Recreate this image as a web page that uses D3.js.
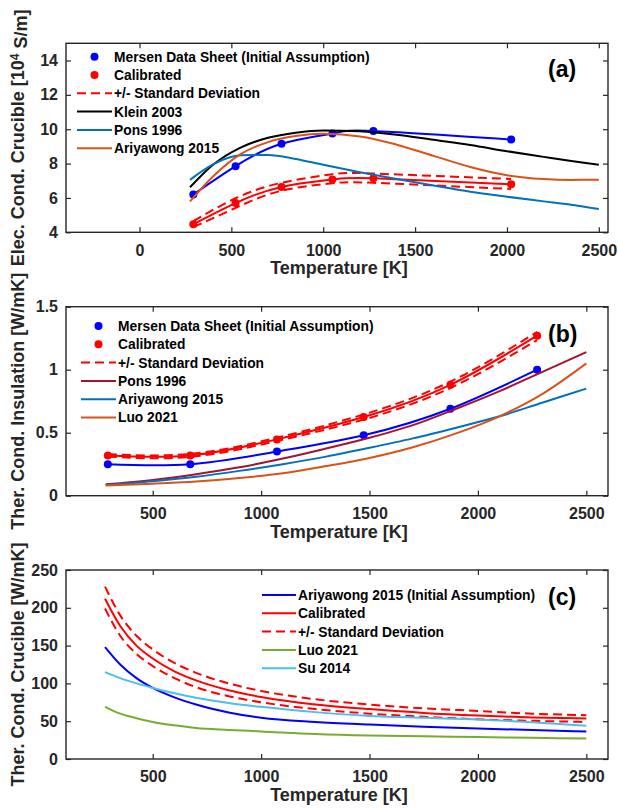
<!doctype html>
<html>
<head>
<meta charset="utf-8">
<style>
	body { margin: 0; background: #fff; }
	svg text { font-family: "Liberation Sans", Arial, sans-serif; font-weight: bold; }
	.tick text { font-size: 16px; fill: #262626; }
	.tick line { stroke: #262626; stroke-width: 1.2px; }
	.frame { fill: none; stroke: #262626; stroke-width: 1.4px; }
	.ax-label { font-size: 18px; fill: #262626; }
	.lgd-text { font-size: 13.8px; fill: #000; }
	.tag { font-size: 23px; fill: #000; }
	.curve { fill: none; stroke-width: 2px; }
</style>
<script src="https://cdn.jsdelivr.net/npm/d3@7"></script>
</head>
<body>
<div id="canvas"></div>
<script>
// ---- panel (a): electrical conductivity of crucible [10^4 S/m]
var tempA_pts = [293, 523, 773, 1050, 1273, 2023];
var mersenA = [6.2, 7.85, 9.15, 9.75, 9.9, 9.4];
var calibA = [4.47, 5.7, 6.64, 7.07, 7.14, 6.8];
var calibA_hi = [4.65, 5.98, 6.88, 7.38, 7.42, 7.1];
var calibA_lo = [4.3, 5.42, 6.42, 6.85, 6.88, 6.52];
var tempA_grid = [275, 400, 550, 700, 850, 1000, 1200, 1400, 1600, 1800, 2000, 2200, 2350, 2500];
var kleinA = [6.62, 7.93, 8.93, 9.5, 9.8, 9.93, 9.88, 9.68, 9.38, 9.08, 8.72, 8.39, 8.15, 7.93];
var ponsA = [7.05, 7.95, 8.48, 8.5, 8.27, 7.93, 7.5, 7.1, 6.72, 6.36, 6.07, 5.8, 5.6, 5.35];
var ariyaA = [5.8, 7.25, 8.55, 9.25, 9.6, 9.73, 9.58, 9.1, 8.45, 7.8, 7.32, 7.1, 7.05, 7.06];
var ticksA_x = [0, 500, 1000, 1500, 2000, 2500];
var ticksA_y = [4, 6, 8, 10, 12, 14];

// ---- panel (b): thermal conductivity of insulation [W/mK]
var tempB_pts = [293, 673, 1073, 1473, 1873, 2273];
var mersenB = [0.25, 0.25, 0.35, 0.48, 0.69, 1.0];
var calibB = [0.32, 0.32, 0.447, 0.624, 0.88, 1.27];
var calibB_hi = [0.33, 0.332, 0.46, 0.645, 0.905, 1.3];
var calibB_lo = [0.31, 0.308, 0.434, 0.604, 0.855, 1.235];
var tempB_grid = [283, 500, 700, 900, 1100, 1300, 1500, 1700, 1900, 2100, 2300, 2500];
var ponsB = [0.09, 0.125, 0.17, 0.225, 0.295, 0.375, 0.46, 0.56, 0.69, 0.83, 0.985, 1.14];
var ariyaB = [0.085, 0.115, 0.15, 0.197, 0.25, 0.31, 0.38, 0.455, 0.54, 0.63, 0.74, 0.85];
var luoB = [0.08, 0.095, 0.112, 0.14, 0.178, 0.235, 0.3, 0.385, 0.495, 0.63, 0.81, 1.05];
var ticksB_x = [500, 1000, 1500, 2000, 2500];
var ticksB_y = [0, 0.5, 1, 1.5];

// ---- panel (c): thermal conductivity of crucible [W/mK]
var tempC_grid = [280, 350, 425, 500, 600, 700, 850, 1000, 1250, 1500, 1750, 2000, 2250, 2500];
var ariyaC = [148, 125, 107, 94, 81.5, 72, 61.5, 54.5, 49, 45.5, 42.5, 40.5, 38.2, 36.5];
var calibC = [212, 176, 150, 133, 116, 104, 91, 82, 72, 66, 61, 57.5, 55, 53.5];
var calibC_hi = [228, 190, 163, 145, 127, 114, 100, 90, 79, 72, 67, 63.5, 60, 58];
var calibC_lo = [199, 163, 139, 123, 107, 95, 83, 75, 66, 60, 56, 52.5, 50.5, 49];
var luoC = [69, 60, 54, 49, 44.5, 41, 38.5, 36.5, 33, 31, 30, 29, 28, 27];
var suC = [115, 107, 100, 94, 87, 81, 74, 69, 62, 57, 54.5, 52.3, 48.5, 44];
var ticksC_x = [500, 1000, 1500, 2000, 2500];
var ticksC_y = [0, 50, 100, 150, 200, 250];

var width = 618,
	height = 808,
	plotL = 66,
	plotR = 608,
	plotH = 189;

var svg = d3.select("#canvas")
	.append("svg")
	.attr("width", width)
	.attr("height", height);

var zip = (xs, ys) => xs.map((t, i) => [t, ys[i]]);

var draw_panel = function(p) {
	var x = d3.scaleLinear().domain(p.xDomain).range([plotL, plotR]);
	var y = d3.scaleLinear().domain(p.yDomain).range([p.top + plotH, p.top]);
	var g = svg.append("g");

	g.append("clipPath").attr("id", "clip-" + p.id)
	  .append("rect")
		.attr("x", plotL).attr("y", p.top)
		.attr("width", plotR - plotL).attr("height", plotH);

	var plot = g.append("g").attr("clip-path", `url(#clip-${p.id})`);

	p.series.forEach(function(s) {
		var line = d3.line()
			.x(d => x(d[0]))
			.y(d => y(d[1]))
			.curve(s.smooth === "natural" ? d3.curveNatural : d3.curveMonotoneX);
		if (s.line) {
			plot.append("path")
				.attr("class", "curve")
				.attr("d", line(zip(s.t, s.v)))
				.attr("stroke", s.color)
				.attr("stroke-dasharray", s.dash ? "9,5" : null);
		}
		if (s.dots) {
			plot.selectAll(null)
			  .data(zip(s.t, s.v)).enter()
				.append("circle")
				.attr("cx", d => x(d[0]))
				.attr("cy", d => y(d[1]))
				.attr("r", 4)
				.attr("fill", s.color);
		}
	});

	// axes, ticks pointing inwards on all four sides
	g.append("g")
		.attr("transform", `translate(0, ${p.top + plotH})`)
		.call(d3.axisBottom(x).tickValues(p.xTicks).tickSizeInner(-5).tickSizeOuter(0).tickPadding(12).tickFormat(d3.format("")))
		.call(a => a.select(".domain").remove());
	g.append("g")
		.attr("transform", `translate(0, ${p.top})`)
		.call(d3.axisTop(x).tickValues(p.xTicks).tickSizeInner(-5).tickSizeOuter(0).tickFormat(""))
		.call(a => a.select(".domain").remove());
	g.append("g")
		.attr("transform", `translate(${plotL}, 0)`)
		.call(d3.axisLeft(y).tickValues(p.yTicks).tickSizeInner(-5).tickSizeOuter(0).tickPadding(8).tickFormat(d3.format("")))
		.call(a => a.select(".domain").remove());
	g.append("g")
		.attr("transform", `translate(${plotR}, 0)`)
		.call(d3.axisRight(y).tickValues(p.yTicks).tickSizeInner(-5).tickSizeOuter(0).tickFormat(""))
		.call(a => a.select(".domain").remove());
	g.selectAll(".tick text").attr("fill", "#262626");

	g.append("rect")
		.attr("class", "frame")
		.attr("x", plotL).attr("y", p.top)
		.attr("width", plotR - plotL).attr("height", plotH);

	g.append("text")
		.attr("class", "ax-label")
		.attr("x", (plotL + plotR) / 2 + 2)
		.attr("y", p.top + plotH + 42)
		.attr("text-anchor", "middle")
		.text("Temperature [K]");

	var yl = g.append("text")
		.attr("class", "ax-label")
		.attr("text-anchor", "middle")
		.attr("transform", `translate(24, ${p.top + plotH / 2}) rotate(-90)`);
	p.yLabel(yl);

	g.append("text")
		.attr("class", "tag")
		.attr("x", 548)
		.attr("y", p.tagY)
		.text(p.tag);

	// legend
	var lg = g.append("g");
	p.legend.forEach(function(s, i) {
		var ly = p.legendY + i * 18.3;
		if (s.kind === "dot") {
			lg.append("circle")
				.attr("cx", (p.legendX0 + p.legendX1) / 2).attr("cy", ly)
				.attr("r", 4).attr("fill", s.color);
		} else {
			lg.append("line")
				.attr("x1", p.legendX0).attr("x2", p.legendX1)
				.attr("y1", ly).attr("y2", ly)
				.attr("stroke", s.color).attr("stroke-width", 2)
				.attr("stroke-dasharray", s.kind === "dash" ? "9,5" : null);
		}
		lg.append("text")
			.attr("class", "lgd-text")
			.attr("x", p.legendX1 + 2)
			.attr("y", ly)
			.attr("dy", "0.36em")
			.text(s.name);
	});
};

draw_panel({
	id: "a", top: 43.3, xDomain: [-400, 2550], yDomain: [4, 15],
	xTicks: ticksA_x, yTicks: ticksA_y, tag: "(a)", tagY: 77,
	yLabel: function(t) {
		t.append("tspan").text("Elec. Cond. Crucible [10");
		t.append("tspan").attr("dy", "-0.45em").attr("font-size", "12px").text("4");
		t.append("tspan").attr("dy", "0.45em").text(" S/m]");
	},
	series: [
		{t: tempA_pts, v: mersenA, color: "#0000ff", line: true, dots: true, smooth: "natural"},
		{t: tempA_pts, v: calibA, color: "#ff0000", line: true, dots: true, smooth: "natural"},
		{t: tempA_pts, v: calibA_hi, color: "#ff0000", line: true, dash: true, smooth: "natural"},
		{t: tempA_pts, v: calibA_lo, color: "#ff0000", line: true, dash: true, smooth: "natural"},
		{t: tempA_grid, v: kleinA, color: "#000000", line: true},
		{t: tempA_grid, v: ponsA, color: "#0072bd", line: true},
		{t: tempA_grid, v: ariyaA, color: "#d95319", line: true}
	],
	legendX0: 77, legendX1: 112, legendY: 56.7,
	legend: [
		{name: "Mersen Data Sheet (Initial Assumption)", kind: "dot", color: "#0000ff"},
		{name: "Calibrated", kind: "dot", color: "#ff0000"},
		{name: "+/- Standard Deviation", kind: "dash", color: "#ff0000"},
		{name: "Klein 2003", kind: "line", color: "#000000"},
		{name: "Pons 1996", kind: "line", color: "#0072bd"},
		{name: "Ariyawong 2015", kind: "line", color: "#d95319"}
	]
});

draw_panel({
	id: "b", top: 306.7, xDomain: [100, 2600], yDomain: [0, 1.5],
	xTicks: ticksB_x, yTicks: ticksB_y, tag: "(b)", tagY: 342,
	yLabel: function(t) { t.text("Ther. Cond. Insulation [W/mK]"); },
	series: [
		{t: tempB_pts, v: mersenB, color: "#0000ff", line: true, dots: true, smooth: "natural"},
		{t: tempB_pts, v: calibB, color: "#ff0000", line: true, dots: true, smooth: "natural"},
		{t: tempB_pts, v: calibB_hi, color: "#ff0000", line: true, dash: true, smooth: "natural"},
		{t: tempB_pts, v: calibB_lo, color: "#ff0000", line: true, dash: true, smooth: "natural"},
		{t: tempB_grid, v: ponsB, color: "#a2142f", line: true},
		{t: tempB_grid, v: ariyaB, color: "#0072bd", line: true},
		{t: tempB_grid, v: luoB, color: "#d95319", line: true}
	],
	legendX0: 81, legendX1: 116, legendY: 326,
	legend: [
		{name: "Mersen Data Sheet (Initial Assumption)", kind: "dot", color: "#0000ff"},
		{name: "Calibrated", kind: "dot", color: "#ff0000"},
		{name: "+/- Standard Deviation", kind: "dash", color: "#ff0000"},
		{name: "Pons 1996", kind: "line", color: "#a2142f"},
		{name: "Ariyawong 2015", kind: "line", color: "#0072bd"},
		{name: "Luo 2021", kind: "line", color: "#d95319"}
	]
});

draw_panel({
	id: "c", top: 570, xDomain: [100, 2600], yDomain: [0, 250],
	xTicks: ticksC_x, yTicks: ticksC_y, tag: "(c)", tagY: 605,
	yLabel: function(t) { t.text("Ther. Cond. Crucible [W/mK]"); },
	series: [
		{t: tempC_grid, v: ariyaC, color: "#0000ff", line: true},
		{t: tempC_grid, v: calibC, color: "#ff0000", line: true},
		{t: tempC_grid, v: calibC_hi, color: "#ff0000", line: true, dash: true},
		{t: tempC_grid, v: calibC_lo, color: "#ff0000", line: true, dash: true},
		{t: tempC_grid, v: luoC, color: "#77ac30", line: true},
		{t: tempC_grid, v: suC, color: "#4dbeee", line: true}
	],
	legendX0: 262, legendX1: 296, legendY: 595,
	legend: [
		{name: "Ariyawong 2015 (Initial Assumption)", kind: "line", color: "#0000ff"},
		{name: "Calibrated", kind: "line", color: "#ff0000"},
		{name: "+/- Standard Deviation", kind: "dash", color: "#ff0000"},
		{name: "Luo 2021", kind: "line", color: "#77ac30"},
		{name: "Su 2014", kind: "line", color: "#4dbeee"}
	]
});
</script>
</body>
</html>
